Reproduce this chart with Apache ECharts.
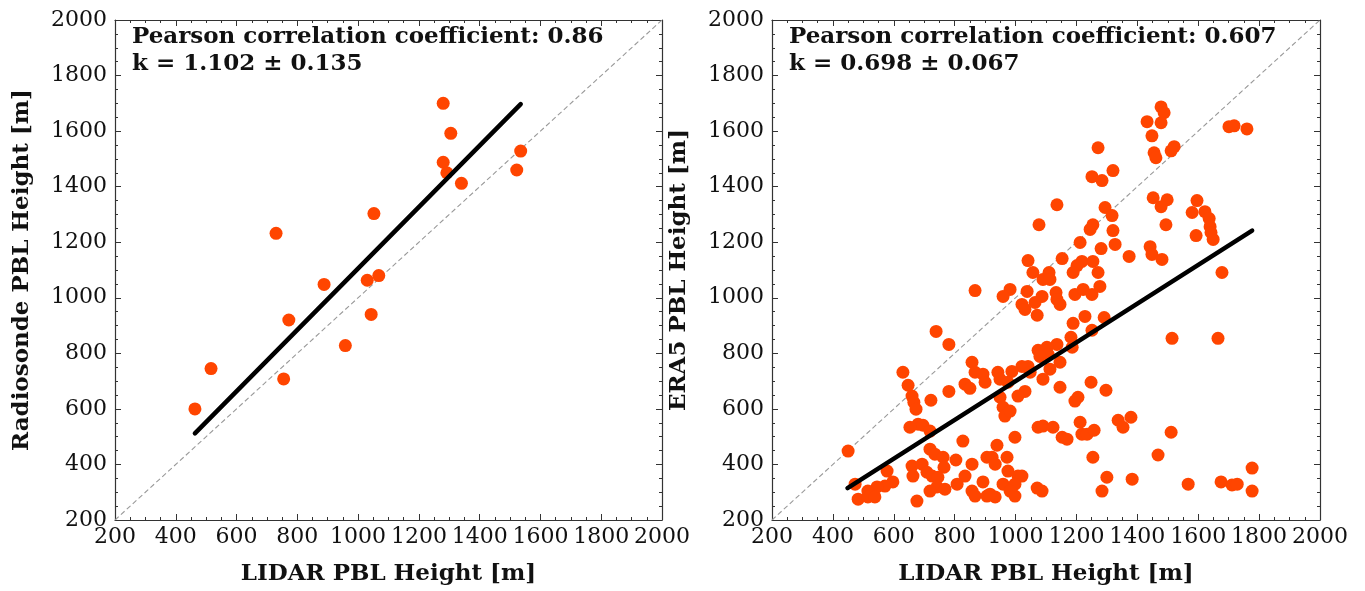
<!DOCTYPE html>
<html>
<head>
<meta charset="utf-8">
<script src="https://cdn.jsdelivr.net/npm/echarts@6/dist/echarts.min.js"></script>
<style>
html,body{margin:0;padding:0;background:#fff;}
#chart{width:1365px;height:591px;}
</style>
</head>
<body>
<div id="chart"></div>
<script>
// ---- Data ----
const axisTicks = [200, 400, 600, 800, 1000, 1200, 1400, 1600, 1800, 2000];

// Left panel: LIDAR vs Radiosonde
const radioLidar = [463, 516, 730, 755, 772, 888, 958, 1030, 1052, 1043, 1068, 1280, 1305, 1280, 1292, 1340, 1522, 1535];
const radioPBL   = [600, 745, 1232, 708, 920, 1048, 828, 1063, 1303, 940, 1080, 1700, 1592, 1488, 1450, 1412, 1460, 1528];
const radioFitX = [463, 1535];
const radioFitY = [512, 1697];
const radioText = ['Pearson correlation coefficient: 0.86', 'k = 1.102 \u00b1 0.135'];

// Right panel: LIDAR vs ERA5
const era5Lidar = [
 1478,1488,1432,1478,1448,1701,1718,1760,1521,1511,1455,1461,1452,1498,1478,1596,1580,1622,1636,1639,
 1642,1649,1593,1494,1442,1448,1481,1678,1271,1320,1251,1284,1136,1077,1294,1317,1254,1245,1320,1212,
 1327,1281,1373,1041,1153,1218,1254,1202,1189,1057,1090,1110,1113,1271,1277,982,959,1038,1087,1133,
 1195,1222,1251,867,739,781,630,647,857,867,893,900,834,850,781,722,660,666,673,680,
 653,696,719,450,827,719,735,762,765,804,857,906,660,663,693,709,726,745,742,719,
 768,578,597,571,545,515,473,483,515,538,676,808,834,857,867,893,906,1021,1031,1064,
 1136,1146,1071,1189,1228,1291,1251,1182,1186,1136,1074,1103,1107,1080,1146,1113,1090,1041,1021,1048,
 988,942,949,975,1031,1008,1146,1248,1297,1195,1205,949,959,965,982,1074,1090,1123,1153,1169,
 1212,1218,1235,1258,1337,1353,1379,998,939,923,933,972,975,1008,1021,959,998,982,998,933,
 916,1071,1087,1254,1300,1284,1383,1514,1665,1511,1468,1567,1675,1711,1728,1777,1777
];
const era5PBL = [
 1687,1666,1634,1630,1583,1616,1619,1608,1544,1529,1522,1504,1360,1353,1328,1350,1307,1310,1285,1256,
 1235,1210,1224,1263,1184,1156,1138,1091,1540,1458,1436,1422,1335,1263,1325,1296,1263,1246,1242,1199,
 1192,1177,1149,1134,1141,1131,1131,1116,1091,1091,1066,1091,1066,1091,1041,1030,1005,1023,1005,1019,
 1012,1030,1012,1026,879,832,732,685,768,732,725,696,689,674,663,631,646,624,599,545,
 534,541,520,448,484,455,437,426,390,416,401,426,394,358,401,372,358,354,319,304,
 311,376,337,322,319,304,329,275,283,283,268,329,358,304,286,337,286,976,958,983,
 994,976,937,908,933,929,883,858,822,832,811,822,796,789,768,743,707,753,753,732,
 735,732,707,696,663,646,678,696,667,628,642,642,606,574,592,534,538,534,498,491,
 552,509,509,523,559,534,570,498,469,426,401,426,376,358,358,329,329,304,286,283,
 293,315,304,426,354,304,347,854,854,516,434,329,337,326,329,387,304
];
const era5FitX = [448, 1777];
const era5FitY = [315, 1242];
const era5Text = ['Pearson correlation coefficient: 0.607', 'k = 0.698 \u00b1 0.067'];

// ---- Build ----
const pts = (xs, ys) => xs.map((x, i) => [x, ys[i]]);
const SERIF = '"DejaVu Serif", serif';
const FRAME = '#333';
const grids = [
  {left: 115, right: 703, top: 20, bottom: 70},
  {left: 772, right: 45, top: 20, bottom: 70}
];

function axisBase(pos, showLabel) {
  return {
    type: 'value', min: axisTicks[0], max: axisTicks[axisTicks.length - 1],
    interval: axisTicks[1] - axisTicks[0], position: pos,
    axisLine: {show: true, onZero: false, lineStyle: {color: FRAME, width: 1.2}},
    axisTick: {show: true, inside: true, length: 6, lineStyle: {color: FRAME, width: 1}},
    minorTick: {show: true, splitNumber: 4, length: 3, lineStyle: {color: FRAME, width: 1}},
    splitLine: {show: false},
    axisLabel: {show: showLabel, fontFamily: SERIF, fontSize: 22, color: '#111',
                showMinLabel: true, showMaxLabel: true, margin: 8,
                formatter: v => String(v)}
  };
}

const xAxis = [], yAxis = [];
[0, 1].forEach(g => {
  const xb = axisBase('bottom', true);
  xb.gridIndex = g;
  xb.axisLabel.margin = 6;
  xb.name = 'LIDAR PBL Height [m]';
  xb.nameLocation = 'middle';
  xb.nameGap = 43;
  xb.nameTextStyle = {fontFamily: SERIF, fontWeight: 'bold', fontSize: 23, color: '#111'};
  const xt = axisBase('top', false); xt.gridIndex = g;
  const yl = axisBase('left', true); yl.gridIndex = g;
  yl.name = g === 0 ? 'Radiosonde PBL Height [m]' : 'ERA5 PBL Height [m]';
  yl.nameLocation = 'middle';
  yl.nameGap = 81;
  yl.nameTextStyle = {fontFamily: SERIF, fontWeight: 'bold', fontSize: 23, color: '#111'};
  const yr = axisBase('right', false); yr.gridIndex = g;
  xAxis.push(xb, xt);
  yAxis.push(yl, yr);
});

function panelSeries(g, xs, ys, fx, fy) {
  return [
    {type: 'line', xAxisIndex: g * 2, yAxisIndex: g * 2, data: [[axisTicks[0], axisTicks[0]], [axisTicks[9], axisTicks[9]]],
     symbol: 'none', silent: true, lineStyle: {color: '#999', width: 1.1, type: [5, 3]}, z: 1},
    {type: 'scatter', xAxisIndex: g * 2, yAxisIndex: g * 2, data: pts(xs, ys), symbolSize: 13,
     itemStyle: {color: '#FF4500', opacity: 1}, z: 2},
    {type: 'line', xAxisIndex: g * 2, yAxisIndex: g * 2, data: pts(fx, fy), symbol: 'none',
     lineStyle: {color: '#000', width: 4.5, cap: 'round'}, z: 3}
  ];
}

const textStyle = {fontFamily: SERIF, fontWeight: 'bold', fontSize: 23, fill: '#111'};
const option = {
  animation: false,
  backgroundColor: '#fff',
  grid: grids,
  xAxis: xAxis,
  yAxis: yAxis,
  series: [].concat(
    panelSeries(0, radioLidar, radioPBL, radioFitX, radioFitY),
    panelSeries(1, era5Lidar, era5PBL, era5FitX, era5FitY)
  ),
  graphic: [
    {type: 'text', left: 132, top: 26, style: Object.assign({text: radioText[0]}, textStyle)},
    {type: 'text', left: 132, top: 53, style: Object.assign({text: radioText[1]}, textStyle)},
    {type: 'text', left: 789, top: 26, style: Object.assign({text: era5Text[0]}, textStyle)},
    {type: 'text', left: 789, top: 53, style: Object.assign({text: era5Text[1]}, textStyle)}
  ]
};

const chart = echarts.init(document.getElementById('chart'));
chart.setOption(option);
</script>
</body>
</html>
